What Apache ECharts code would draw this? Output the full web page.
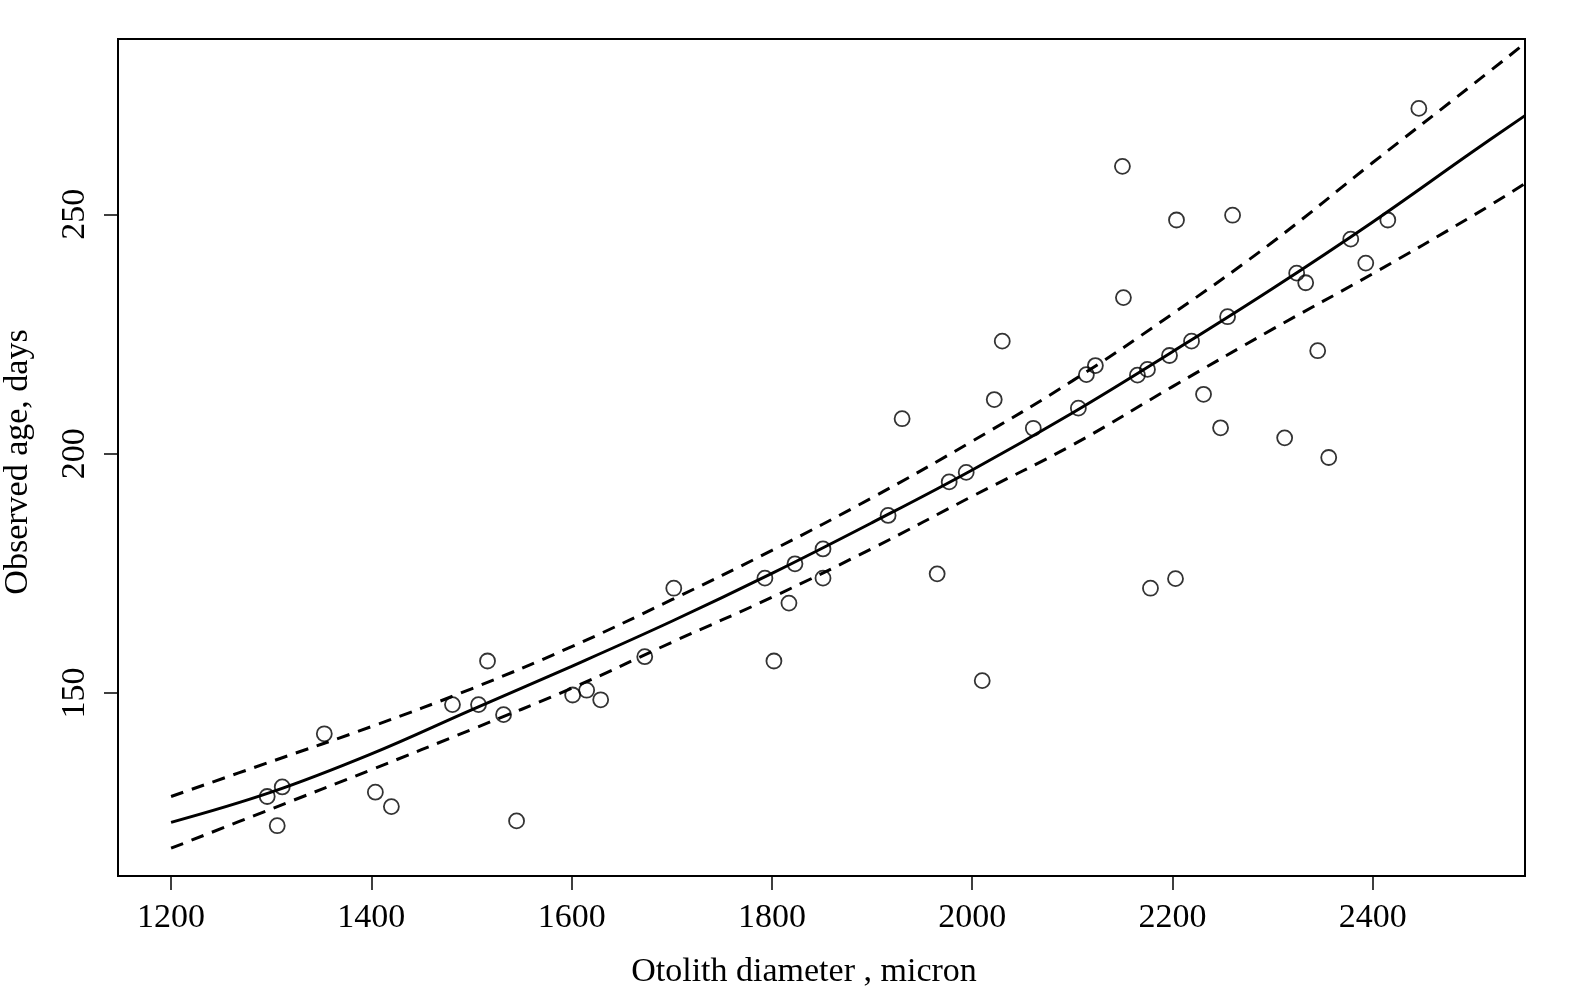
<!DOCTYPE html>
<html>
<head>
<meta charset="utf-8">
<title>Otolith diameter vs observed age</title>
<script src="https://cdn.jsdelivr.net/npm/echarts@6/dist/echarts.min.js"></script>
<style>
  html, body { margin: 0; padding: 0; background: #fff; }
  #chart { width: 1575px; height: 992px; }
</style>
</head>
<body>
<div id="chart"></div>
<script>
// observed points
const diameter = [1296, 1311, 1306, 1353, 1404, 1420, 1481, 1507, 1516, 1532, 1545, 1601, 1615, 1629,
  1673, 1702, 1793, 1802, 1817, 1823, 1851, 1851, 1916, 1930, 1965, 1977, 1994, 2010, 2022, 2030,
  2061, 2106, 2114, 2123, 2150, 2151, 2165, 2175, 2178, 2197, 2203, 2204, 2219, 2231, 2248, 2255,
  2260, 2312, 2324, 2333, 2345, 2356, 2378, 2393, 2415, 2446];
const age = [128.4, 130.4, 122.3, 141.5, 129.3, 126.3, 147.6, 147.6, 156.7, 145.5, 123.3, 149.6, 150.6, 148.6,
  157.6, 171.9, 174.0, 156.7, 168.8, 177.0, 180.1, 174.0, 187.1, 207.3, 174.9, 194.1, 196.1, 152.6, 211.3, 223.5,
  205.3, 209.5, 216.5, 218.4, 260.0, 232.6, 216.4, 217.6, 171.9, 220.5, 173.9, 248.8, 223.5, 212.4, 205.4, 228.6,
  249.8, 203.3, 237.7, 235.7, 221.5, 199.2, 244.8, 239.8, 248.8, 272.1];

// fitted curve and its band, read at these diameters
const curveX = [1200, 1300, 1400, 1500, 1600, 1700, 1800, 1900, 2000, 2100, 2200, 2300, 2400, 2500, 2552];
const fitAge = [123.0, 129.3, 137.3, 146.5, 155.6, 165.0, 175.0, 185.6, 196.6, 208.5, 221.3, 234.5, 248.4, 263.1, 270.6];
const upperAge = [128.4, 135.7, 143.0, 150.9, 159.7, 169.5, 179.8, 190.8, 202.6, 215.2, 229.2, 244.2, 260.8, 277.1, 285.7];
const lowerAge = [117.6, 125.8, 134.0, 142.4, 151.0, 160.6, 170.0, 180.2, 191.1, 201.8, 214.0, 226.0, 237.6, 249.7, 256.4];

const xTicks = [1200, 1400, 1600, 1800, 2000, 2200, 2400];
const yTicks = [150, 200, 250];

const font = "Liberation Serif";
const chart = echarts.init(document.getElementById("chart"));

const pairs = (xs, ys) => xs.map((v, i) => [v, ys[i]]);

const lineSeries = (data, type) => ({
  type: "line",
  data: data,
  smooth: 0.4,
  symbol: "none",
  silent: true,
  lineStyle: { color: "#000", width: 3, type: type },
});

chart.setOption({
  animation: false,
  backgroundColor: "#fff",
  grid: {
    left: 118,
    right: 50,
    top: 39,
    bottom: 116,
    show: true,
    borderColor: "#000",
    borderWidth: 2,
  },
  xAxis: {
    type: "value",
    min: 1147,
    max: 2552,
    splitLine: { show: false },
    axisLine: { show: false },
    axisTick: { show: true, length: 14, lineStyle: { color: "#000", width: 1.5 }, customValues: xTicks },
    axisLabel: {
      color: "#000", fontFamily: font, fontSize: 34, margin: 25, customValues: xTicks,
      formatter: (v) => String(v),
    },
  },
  yAxis: {
    type: "value",
    min: 111.8,
    max: 286.6,
    splitLine: { show: false },
    axisLine: { show: false },
    axisTick: { show: true, length: 14, lineStyle: { color: "#000", width: 1.5 }, customValues: yTicks },
    axisLabel: {
      color: "#000", fontFamily: font, fontSize: 34, margin: 26, rotate: 90, customValues: yTicks,
      formatter: (v) => String(v),
    },
  },
  graphic: [
    {
      type: "text",
      x: 804,
      y: 972,
      style: { text: "Otolith diameter , micron", fill: "#000", font: "34px " + font, align: "center", verticalAlign: "middle" },
    },
    {
      type: "text",
      x: 18,
      y: 462,
      rotation: Math.PI / 2,
      style: { text: "Observed age, days", fill: "#000", font: "34px " + font, align: "center", verticalAlign: "middle" },
    },
  ],
  series: [
    lineSeries(pairs(curveX, fitAge), "solid"),
    lineSeries(pairs(curveX, upperAge), [13, 9]),
    lineSeries(pairs(curveX, lowerAge), [13, 9]),
    {
      type: "scatter",
      data: pairs(diameter, age),
      symbol: "circle",
      symbolSize: 15,
      itemStyle: { color: "rgba(0,0,0,0)", borderColor: "#000", borderWidth: 1.8 },
    },
  ],
});
</script>
</body>
</html>
